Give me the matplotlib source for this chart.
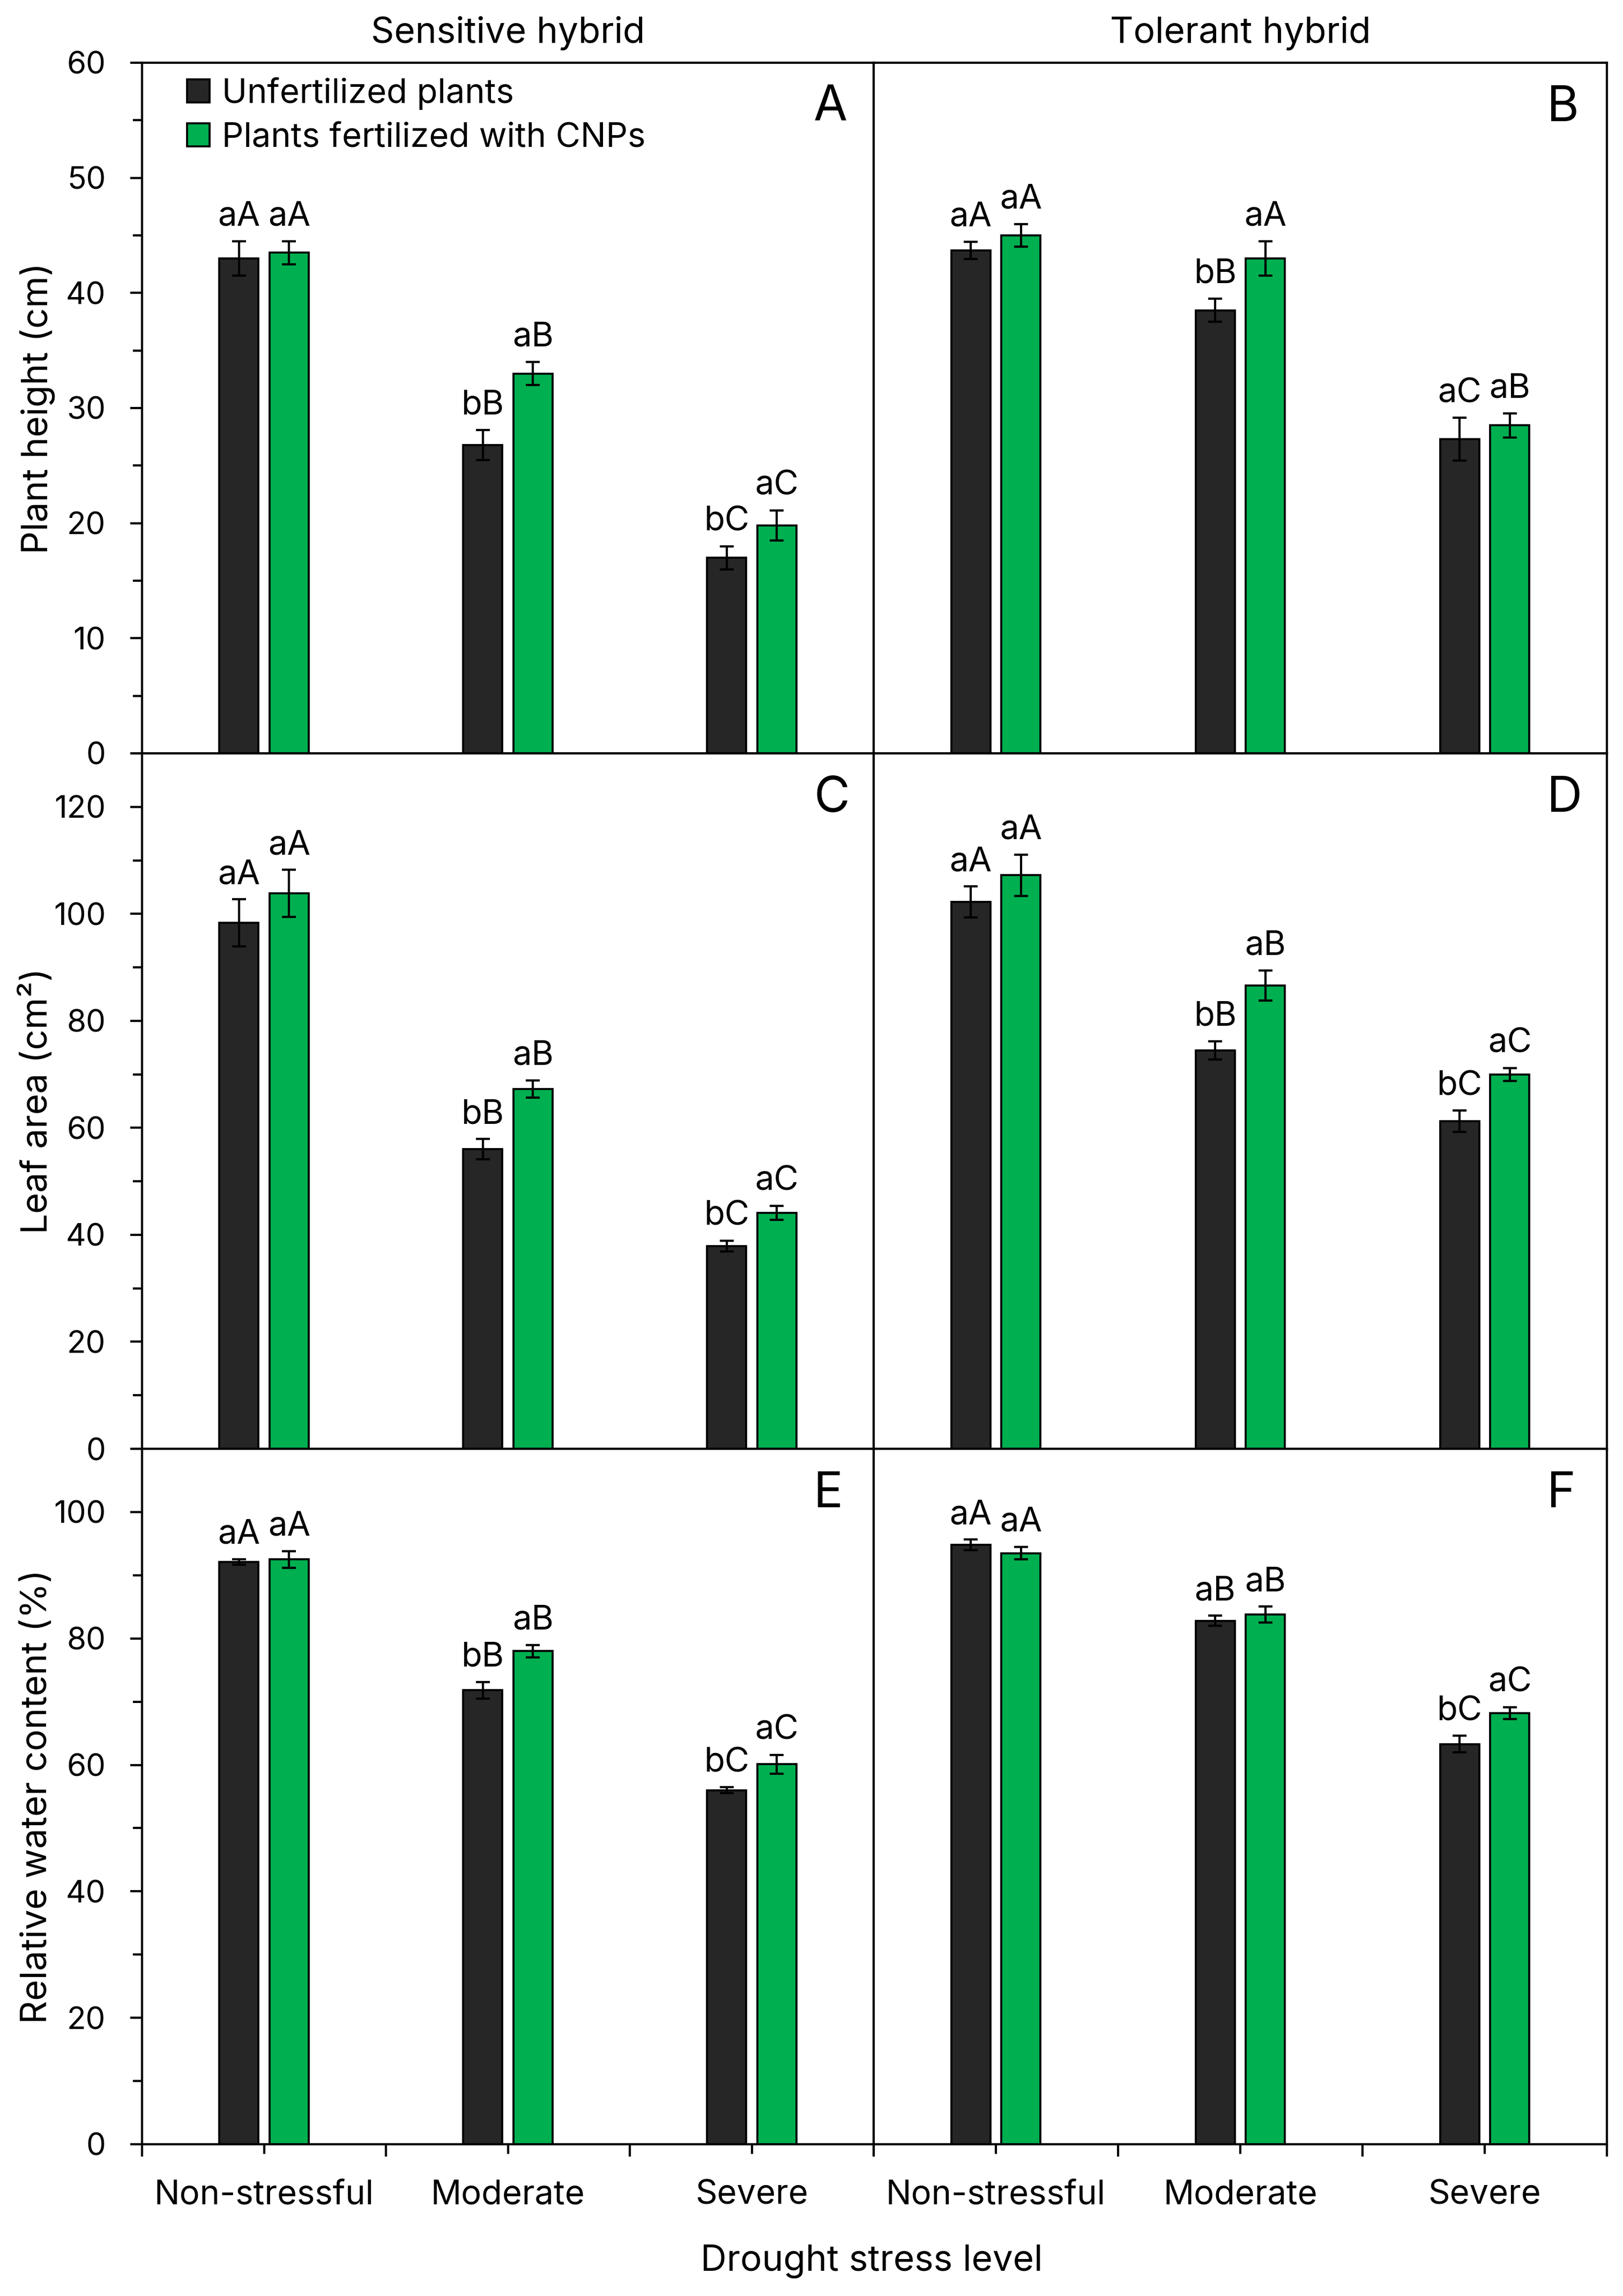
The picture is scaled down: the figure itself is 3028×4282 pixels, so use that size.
import matplotlib
matplotlib.use("Agg")
import matplotlib.pyplot as plt
from matplotlib.ticker import MultipleLocator, FixedLocator
import numpy as np

plt.rcParams['font.family'] = ['Inter', 'DejaVu Sans']

levels = ['Non-stressful', 'Moderate', 'Severe']
hybrids = ['Sensitive hybrid', 'Tolerant hybrid']
series_names = ['Unfertilized plants', 'Plants fertilized with CNPs']
panel_letters = [['A', 'B'], ['C', 'D'], ['E', 'F']]
ylabels = ['Plant height (cm)', 'Leaf area (cm²)', 'Relative water content (%)']

# plant height (cm)
ph_sens_unf = [43.0, 26.8, 17.0]
ph_sens_unf_err = [1.5, 1.3, 1.0]
ph_sens_cnp = [43.5, 33.0, 19.8]
ph_sens_cnp_err = [1.0, 1.0, 1.3]
ph_tol_unf = [43.7, 38.5, 27.3]
ph_tol_unf_err = [0.75, 1.0, 1.85]
ph_tol_cnp = [45.0, 43.0, 28.5]
ph_tol_cnp_err = [1.0, 1.5, 1.05]
ph_sens_unf_lab = ['aA', 'bB', 'bC']
ph_sens_cnp_lab = ['aA', 'aB', 'aC']
ph_tol_unf_lab = ['aA', 'bB', 'aC']
ph_tol_cnp_lab = ['aA', 'aA', 'aB']

# leaf area (cm2)
la_sens_unf = [98.3, 56.0, 37.9]
la_sens_unf_err = [4.4, 1.9, 1.0]
la_sens_cnp = [103.8, 67.3, 44.1]
la_sens_cnp_err = [4.4, 1.6, 1.3]
la_tol_unf = [102.2, 74.5, 61.2]
la_tol_unf_err = [2.9, 1.7, 2.0]
la_tol_cnp = [107.2, 86.6, 70.0]
la_tol_cnp_err = [3.85, 2.8, 1.2]
la_sens_unf_lab = ['aA', 'bB', 'bC']
la_sens_cnp_lab = ['aA', 'aB', 'aC']
la_tol_unf_lab = ['aA', 'bB', 'bC']
la_tol_cnp_lab = ['aA', 'aB', 'aC']

# relative water content (%)
rwc_sens_unf = [92.1, 71.8, 56.0]
rwc_sens_unf_err = [0.45, 1.3, 0.45]
rwc_sens_cnp = [92.5, 78.0, 60.1]
rwc_sens_cnp_err = [1.3, 1.0, 1.5]
rwc_tol_unf = [94.8, 82.8, 63.3]
rwc_tol_unf_err = [0.85, 0.8, 1.3]
rwc_tol_cnp = [93.5, 83.8, 68.2]
rwc_tol_cnp_err = [1.0, 1.25, 0.95]
rwc_sens_unf_lab = ['aA', 'bB', 'bC']
rwc_sens_cnp_lab = ['aA', 'aB', 'aC']
rwc_tol_unf_lab = ['aA', 'aB', 'bC']
rwc_tol_cnp_lab = ['aA', 'aB', 'aC']

panels = [
    [(ph_sens_unf, ph_sens_unf_err, ph_sens_unf_lab, ph_sens_cnp, ph_sens_cnp_err, ph_sens_cnp_lab),
     (ph_tol_unf, ph_tol_unf_err, ph_tol_unf_lab, ph_tol_cnp, ph_tol_cnp_err, ph_tol_cnp_lab)],
    [(la_sens_unf, la_sens_unf_err, la_sens_unf_lab, la_sens_cnp, la_sens_cnp_err, la_sens_cnp_lab),
     (la_tol_unf, la_tol_unf_err, la_tol_unf_lab, la_tol_cnp, la_tol_cnp_err, la_tol_cnp_lab)],
    [(rwc_sens_unf, rwc_sens_unf_err, rwc_sens_unf_lab, rwc_sens_cnp, rwc_sens_cnp_err, rwc_sens_cnp_lab),
     (rwc_tol_unf, rwc_tol_unf_err, rwc_tol_unf_lab, rwc_tol_cnp, rwc_tol_cnp_err, rwc_tol_cnp_lab)],
]
ylims = [60, 130, 110]
ymajor = [10, 20, 20]
yminor = [5, 10, 10]

black = '#262626'
green = '#00B050'
fs_tick = 14
fs_text = 15.2
fs_label = 16.2

W, H = 3028, 4282
fig = plt.figure(figsize=(W / 300, H / 300), dpi=300)

col_x = [265 / W, 1630 / W, 2998 / W]
row_y = [117, 1405, 2702, 3999]

x = np.arange(3) + 0.5
bw = 0.16
off = 0.103

for r in range(3):
    for c in range(2):
        y0 = 1 - row_y[r + 1] / H
        h = (row_y[r + 1] - row_y[r]) / H
        ax = fig.add_axes([col_x[c], y0, col_x[c + 1] - col_x[c], h])
        unf, unf_e, unf_l, cnp, cnp_e, cnp_l = panels[r][c]

        ax.bar(x - off, unf, bw, color=black, edgecolor='black', linewidth=0.9,
               label=series_names[0], zorder=2)
        ax.bar(x + off, cnp, bw, color=green, edgecolor='black', linewidth=0.9,
               label=series_names[1], zorder=2)
        ax.errorbar(x - off, unf, yerr=unf_e, fmt='none', ecolor='black',
                    elinewidth=1.0, capsize=3.2, capthick=1.0, zorder=3)
        ax.errorbar(x + off, cnp, yerr=cnp_e, fmt='none', ecolor='black',
                    elinewidth=1.0, capsize=3.2, capthick=1.0, zorder=3)

        for i in range(3):
            ax.annotate(unf_l[i], (x[i] - off, unf[i] + unf_e[i]), xytext=(0, 7.0),
                        textcoords='offset points', ha='center', va='baseline', fontsize=fs_text)
            ax.annotate(cnp_l[i], (x[i] + off, cnp[i] + cnp_e[i]), xytext=(0, 7.0),
                        textcoords='offset points', ha='center', va='baseline', fontsize=fs_text)

        ax.set_xlim(0, 3)
        ax.set_ylim(0, ylims[r])
        for sp in ax.spines.values():
            sp.set_linewidth(1.0)

        ax.yaxis.set_major_locator(MultipleLocator(ymajor[r]))
        ax.yaxis.set_minor_locator(MultipleLocator(yminor[r]))
        if c == 0:
            ax.tick_params(axis='y', which='major', length=5.3, width=1.0, pad=11, labelsize=fs_tick)
            ax.tick_params(axis='y', which='minor', length=4.0, width=1.0)
        else:
            ax.tick_params(axis='y', which='both', left=False, labelleft=False)

        if r == 2:
            ax.xaxis.set_major_locator(FixedLocator(x))
            ax.set_xticklabels(levels)
            ax.xaxis.set_minor_locator(FixedLocator([0, 1, 2, 3]))
            ax.tick_params(axis='x', which='major', length=4.3, width=1.0, pad=11.5, labelsize=fs_text)
            ax.tick_params(axis='x', which='minor', length=5.4, width=1.0)
        else:
            ax.tick_params(axis='x', which='both', bottom=False, labelbottom=False)

        if r == 0:
            ax.set_title(hybrids[c], fontsize=fs_label, pad=9)
        if r == 0 and c == 0:
            ax.legend(loc='upper left', bbox_to_anchor=(0.0615, 0.979), frameon=False,
                      fontsize=fs_text, handlelength=0.66, handleheight=0.66,
                      handletextpad=0.36, labelspacing=0.36, borderpad=0, borderaxespad=0)

        ax.annotate(panel_letters[r][c], (0.918, 1), xycoords='axes fraction',
                    xytext=(0, -10), textcoords='offset points',
                    ha='left', va='top', fontsize=22)

    yc = 1 - (row_y[r] + row_y[r + 1]) / 2 / H
    fig.text(70 / W, yc, ylabels[r], rotation=90, ha='center', va='center', fontsize=fs_label)

fig.text(1626 / W, 1 - 4217 / H, 'Drought stress level', ha='center', va='center', fontsize=fs_label)

fig.savefig('out.png', dpi=300)
